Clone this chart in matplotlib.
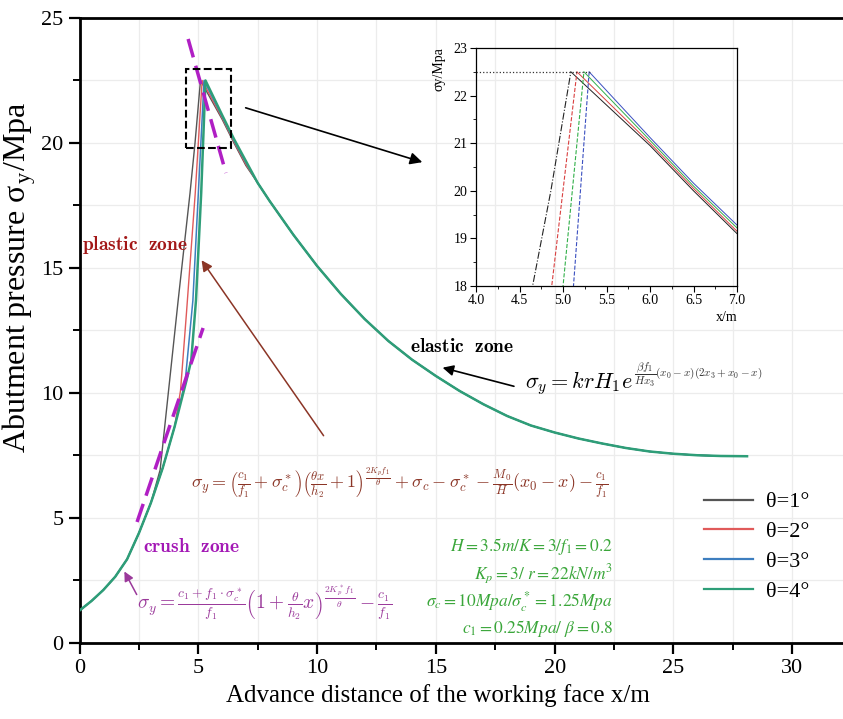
import matplotlib
matplotlib.use('Agg')
import matplotlib.pyplot as plt
from matplotlib.patches import Rectangle
from matplotlib.lines import Line2D
from matplotlib.ticker import MultipleLocator

plt.rcParams['font.family'] = ['Liberation Serif', 'DejaVu Serif']
plt.rcParams['mathtext.fontset'] = 'cm'

# ---- data ----
# crush zone (shared by all curves)
crush_x = [0.0, 0.5, 1.0, 1.5, 2.0, 2.5, 3.0, 3.5, 4.0, 4.5, 4.8]
crush_y = [1.3, 1.68, 2.12, 2.65, 3.35, 4.4, 5.6, 7.0, 8.65, 10.5, 11.7]

# plastic zone rise + peak + first part of elastic drop, one per theta
theta_labels = ['θ=1°', 'θ=2°', 'θ=3°', 'θ=4°']
peak_x = [
    [3.39, 4.15, 4.65, 4.86, 5.09, 6.0, 6.5, 7.0],
    [4.25, 4.5, 4.87, 5.16, 6.0, 6.5, 7.0],
    [4.45, 4.77, 5.0, 5.24, 6.0, 6.5, 7.0],
    [4.7, 4.9, 5.12, 5.30, 6.0, 6.5, 7.0],
]
peak_y = [
    [6.92, 13.7, 18.0, 20.0, 22.5, 20.95, 20.0, 19.1],
    [10.1, 13.2, 18.0, 22.5, 21.0, 20.05, 19.15],
    [10.5, 13.7, 18.0, 22.5, 21.06, 20.1, 19.22],
    [11.3, 13.7, 18.0, 22.5, 21.12, 20.16, 19.28],
]

# elastic zone tail (curves overlap here)
tail_x = [7.5, 8.0, 9.0, 10.0, 11.0, 12.0, 13.0, 14.0, 15.0, 16.0, 17.0, 18.0,
          19.0, 20.0, 21.0, 22.0, 23.0, 24.0, 25.0, 26.0, 27.0, 28.1]
tail_y = [18.4, 17.68, 16.33, 15.08, 13.96, 12.96, 12.08, 11.33, 10.68, 10.08, 9.55, 9.08,
          8.7, 8.42, 8.18, 7.98, 7.8, 7.66, 7.57, 7.51, 7.48, 7.47]

main_colors = ['#555555', '#e05a5a', '#3d7ebf', '#2e9e78']
main_widths = [1.0, 1.0, 1.1, 1.8]
inset_colors = ['#222222', '#d94040', '#33b04a', '#3a4fc0']
inset_styles = ['-.', '--', '--', '--']

fig = plt.figure(figsize=(8.43, 7.19), dpi=100)
ax = fig.add_axes([0.0944, 0.1057, 0.9056, 0.8693])

series = []
for i in range(4):
    keep = [j for j, x in enumerate(crush_x) if x < peak_x[i][0]]
    xs = [crush_x[j] for j in keep] + peak_x[i] + tail_x
    ys = [crush_y[j] for j in keep] + peak_y[i] + tail_y
    series.append((xs, ys))
    ax.plot(xs, ys, color=main_colors[i], lw=main_widths[i], zorder=3)

ax.set_xlim(0, 32.14)
ax.set_ylim(0, 25)
ax.xaxis.set_major_locator(MultipleLocator(5))
ax.xaxis.set_minor_locator(MultipleLocator(2.5))
ax.yaxis.set_major_locator(MultipleLocator(5))
ax.yaxis.set_minor_locator(MultipleLocator(2.5))
ax.grid(True, which='both', color='#ececec', lw=0.9, zorder=0)
ax.set_axisbelow(True)
ax.tick_params(which='major', direction='out', length=8, width=1.6, labelsize=16)
ax.tick_params(which='minor', direction='out', length=5, width=1.4)
ax.tick_params(axis='x', top=False)
for s in ['left', 'bottom', 'top']:
    ax.spines[s].set_linewidth(2)
ax.spines['right'].set_visible(False)

ax.set_xlabel('Advance distance of the working face x/m', fontsize=18)
ax.xaxis.set_label_coords(0.4695, -0.066)
ax.set_ylabel(r'Abutment pressure σ$_\mathregular{y}$/Mpa', fontsize=23)
ax.yaxis.set_label_coords(-0.054, 0.5856)

# dashed tangent lines
ax.plot([4.57, 6.16], [24.16, 18.8], color='#b01fc4', lw=2.5, ls=(0, (5.5, 2.5)), zorder=4)
ax.plot([2.42, 5.2], [4.84, 12.6], color='#b01fc4', lw=2.5, ls=(0, (5.5, 2.5)), zorder=4)

# zoom box and arrow to inset
ax.add_patch(Rectangle((4.48, 19.8), 1.9, 3.16, fill=False, ec='black', lw=1.5, ls='--', zorder=5))
ax.annotate('', xy=(14.54, 19.2), xytext=(6.88, 21.44),
            arrowprops=dict(arrowstyle='-|>', color='black', lw=1.2, mutation_scale=18))

# zone labels
ax.text(0.1, 15.92, r'$\mathbf{plastic\ \ zone}$', color='#a31818', fontsize=14, va='center')
ax.text(13.91, 11.84, r'$\mathbf{elastic\ \ zone}$', color='black', fontsize=14, va='center')
ax.text(2.67, 3.84, r'$\mathbf{crush\ \ zone}$', color='#a318b5', fontsize=14, va='center')

# formulas
t_el = ax.text(18.75, 10.4, r'$\sigma_y = krH_1e$', fontsize=16, color='black', va='center')
ax.annotate(r'$\dfrac{\beta f_1}{Hx_3}(x_0-x)(2x_3+x_0-x)$', xy=(1.0, 0.8), xycoords=t_el,
            xytext=(1, 0), textcoords='offset points', fontsize=8, color='#333333',
            ha='left', va='center')
ax.annotate('', xy=(15.17, 11.04), xytext=(18.4, 10.24),
            arrowprops=dict(arrowstyle='-|>', color='black', lw=1.2, mutation_scale=16))

ax.text(13.49, 6.4,
        r'$\sigma_y = \left(\frac{c_1}{f_1}+\sigma_c^*\right)\left(\frac{\theta x}{h_2}+1\right)^{\frac{2K_pf_1}{\theta}}'
        r'+\sigma_c-\sigma_c^*-\frac{M_0}{H}(x_0-x)-\frac{c_1}{f_1}$',
        fontsize=13, color='#8b3526', ha='center', va='center')
ax.annotate('', xy=(5.07, 15.4), xytext=(10.34, 8.2),
            arrowprops=dict(arrowstyle='-|>', color='#8b3526', lw=1.1, mutation_scale=16))

ax.text(2.42, 1.6,
        r'$\sigma_y = \frac{c_1+f_1\cdot\sigma_c^*}{f_1}\left(1+\frac{\theta}{h_2}x\right)^{\frac{2K_p^*f_1}{\theta}}-\frac{c_1}{f_1}$',
        fontsize=14, color='#9b3a9b', va='center')
ax.annotate('', xy=(1.83, 2.96), xytext=(2.46, 1.84),
            arrowprops=dict(arrowstyle='-|>', color='#9b3a9b', lw=1.1, mutation_scale=14))

params = [r'$H=3.5m/K=3/f_1=0.2$',
          r'$K_p=3/\ r=22kN/m^3$',
          r'$\sigma_c=10Mpa/\sigma_c^*=1.25Mpa$',
          r'$c_1=0.25Mpa/\ \beta=0.8$']
param_y = [3.84, 2.76, 1.64, 0.6]
for t, yy in zip(params, param_y):
    ax.text(22.46, yy, t, fontsize=12.5, color='#3aa63a', ha='right', va='center',
            math_fontfamily='stix')

# legend
handles = [Line2D([0], [0], color=c, lw=1.6) for c in main_colors]
ax.legend(handles, theta_labels, loc='upper left', bbox_to_anchor=(0.818, 0.242),
          frameon=False, fontsize=16, handlelength=2.2, handletextpad=0.6,
          labelspacing=0.42, borderpad=0, borderaxespad=0)

# ---- inset ----
ax_in = fig.add_axes([0.5647, 0.6022, 0.3096, 0.331])
ax_in.set_facecolor('none')
for i in range(4):
    xs, ys = series[i]
    k = ys.index(max(ys))
    ax_in.plot(xs[:k + 1], ys[:k + 1], color=inset_colors[i], lw=0.8, ls=inset_styles[i])
    ax_in.plot(xs[k:], ys[k:], color=inset_colors[i], lw=0.7)
ax_in.plot([4.0, 5.33], [22.5, 22.5], color='#333333', lw=0.9, ls=':')
ax_in.set_xlim(4.0, 7.0)
ax_in.set_ylim(18, 23)
ax_in.xaxis.set_major_locator(MultipleLocator(0.5))
ax_in.xaxis.set_minor_locator(MultipleLocator(0.25))
ax_in.yaxis.set_major_locator(MultipleLocator(1))
ax_in.yaxis.set_minor_locator(MultipleLocator(0.5))
ax_in.xaxis.set_major_formatter(plt.FormatStrFormatter('%.1f'))
ax_in.tick_params(which='major', direction='out', length=4, width=0.8, labelsize=10, pad=2)
ax_in.tick_params(which='minor', direction='out', length=2, width=0.6)
for s in ax_in.spines.values():
    s.set_linewidth(0.9)
ax_in.text(-0.142, 1.004, 'σy/Mpa', transform=ax_in.transAxes, rotation=90,
           ha='center', va='top', fontsize=10)
ax_in.text(1.0, -0.134, 'x/m', transform=ax_in.transAxes, ha='right', va='center', fontsize=10)

fig.savefig('out.png', dpi=100)
